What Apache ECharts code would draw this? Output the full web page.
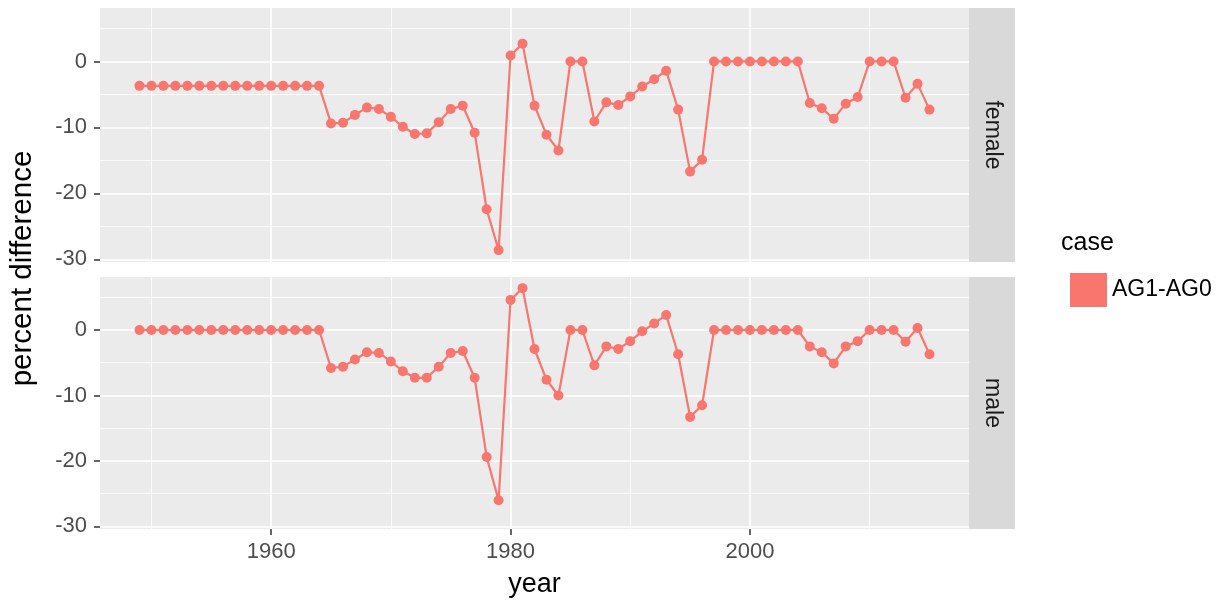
<!DOCTYPE html>
<html>
<head>
<meta charset="utf-8">
<script src="https://cdn.jsdelivr.net/npm/echarts@6/dist/echarts.min.js"></script>
<style>
html,body{margin:0;padding:0;background:#fff;}
#c{width:1223px;height:607px;}
</style>
</head>
<body>
<div id="c"></div>
<script>
const years = [1949,1950,1951,1952,1953,1954,1955,1956,1957,1958,1959,1960,1961,1962,1963,1964,
  1965,1966,1967,1968,1969,1970,1971,1972,1973,1974,1975,1976,1977,1978,1979,1980,
  1981,1982,1983,1984,1985,1986,1987,1988,1989,1990,1991,1992,1993,1994,1995,1996,
  1997,1998,1999,2000,2001,2002,2003,2004,2005,2006,2007,2008,2009,2010,2011,2012,
  2013,2014,2015];

const female = [-3.7,-3.7,-3.7,-3.7,-3.7,-3.7,-3.7,-3.7,-3.7,-3.7,-3.7,-3.7,-3.7,-3.7,-3.7,-3.7,
  -9.4,-9.3,-8.1,-7.0,-7.2,-8.4,-9.9,-11.0,-10.9,-9.2,-7.2,-6.7,-10.8,-22.4,-28.6,0.9,
  2.7,-6.7,-11.1,-13.5,0,0,-9.1,-6.2,-6.6,-5.3,-3.8,-2.7,-1.4,-7.3,-16.7,-14.9,
  0,0,0,0,0,0,0,0,-6.3,-7.1,-8.7,-6.4,-5.4,0,0,0,
  -5.5,-3.4,-7.3];

const male = [0,0,0,0,0,0,0,0,0,0,0,0,0,0,0,0,
  -5.8,-5.6,-4.5,-3.4,-3.5,-4.8,-6.3,-7.3,-7.3,-5.6,-3.5,-3.2,-7.3,-19.4,-26.0,4.6,
  6.4,-2.9,-7.6,-10.0,0,0,-5.4,-2.5,-2.9,-1.7,-0.2,1.0,2.3,-3.7,-13.3,-11.5,
  0,0,0,0,0,0,0,0,-2.5,-3.4,-5.1,-2.5,-1.7,0,0,0,
  -1.8,0.3,-3.7];

const panels = ['female', 'male'];
const caseName = 'AG1-AG0';
const xMajorTicks = [1960, 1980, 2000];
const xMinorTicks = [1950, 1970, 1990, 2010];
const yMajorTicks = [-30, -20, -10, 0];
const yMinorTicks = [-25, -15, -5, 5];
const xRange = [1945.7, 2018.3];
const yRange = [-30.4, 8.1];

const COL = '#F8766D';
const FONT = '"Liberation Sans", Arial, Helvetica, sans-serif';
const panelBoxes = [{top: 8, height: 254}, {top: 277, height: 252}];
const PLEFT = 100, PWIDTH = 869;

const grids = panelBoxes.map(b => ({
  left: PLEFT, top: b.top, width: PWIDTH, height: b.height,
  show: true, backgroundColor: '#EBEBEB', borderWidth: 0, containLabel: false
}));

const plain = v => String(v);
const xAxes = [], yAxes = [], series = [];
panels.forEach((p, i) => {
  const bottom = i === panels.length - 1;
  xAxes.push({
    type: 'value', gridIndex: i, min: xRange[0], max: xRange[1], position: 'bottom',
    axisLine: {show: false, onZero: false},
    axisTick: {show: bottom, customValues: xMajorTicks, length: 6, lineStyle: {color: '#333333', width: 1.5}},
    axisLabel: {show: bottom, customValues: xMajorTicks, formatter: plain, margin: 12, color: '#4D4D4D', fontSize: 22, fontFamily: FONT},
    splitLine: {show: true, lineStyle: {color: '#FFFFFF', width: 1.6}},
    name: bottom ? 'year' : '', nameLocation: 'middle', nameGap: 42,
    nameTextStyle: {color: '#000', fontSize: 27, fontFamily: FONT}
  });
  xAxes.push({
    type: 'value', gridIndex: i, min: xRange[0], max: xRange[1], position: 'bottom',
    axisLine: {show: false, onZero: false},
    axisTick: {show: false, customValues: xMinorTicks},
    axisLabel: {show: false, customValues: xMinorTicks},
    splitLine: {show: true, lineStyle: {color: '#FFFFFF', width: 0.8}}
  });
  yAxes.push({
    type: 'value', gridIndex: i, min: yRange[0], max: yRange[1], position: 'left',
    axisLine: {show: false, onZero: false},
    axisTick: {show: true, customValues: yMajorTicks, length: 6, lineStyle: {color: '#333333', width: 1.5}},
    axisLabel: {show: true, customValues: yMajorTicks, formatter: plain, margin: 13, color: '#4D4D4D', fontSize: 22, fontFamily: FONT},
    splitLine: {show: true, lineStyle: {color: '#FFFFFF', width: 1.6}}
  });
  yAxes.push({
    type: 'value', gridIndex: i, min: yRange[0], max: yRange[1], position: 'left',
    axisLine: {show: false, onZero: false},
    axisTick: {show: false, customValues: yMinorTicks},
    axisLabel: {show: false, customValues: yMinorTicks},
    splitLine: {show: true, lineStyle: {color: '#FFFFFF', width: 0.8}}
  });
  const vals = p === 'female' ? female : male;
  series.push({
    type: 'line', name: caseName,
    xAxisIndex: i * 2, yAxisIndex: i * 2,
    data: years.map((y, k) => [y, vals[k]]),
    symbol: 'circle', symbolSize: 10, showSymbol: true,
    lineStyle: {color: COL, width: 2.2},
    itemStyle: {color: COL},
    emphasis: {disabled: true},
    animation: false, z: 5
  });
});

const graphics = [];
panelBoxes.forEach((b, i) => {
  graphics.push({
    type: 'rect', left: PLEFT + PWIDTH, top: b.top,
    shape: {width: 46, height: b.height},
    style: {fill: '#D9D9D9'}, silent: true
  });
  graphics.push({
    type: 'text', x: PLEFT + PWIDTH + 23, y: b.top + b.height / 2,
    rotation: -Math.PI / 2,
    style: {text: panels[i], fill: '#1A1A1A', font: '23px ' + FONT, align: 'center', verticalAlign: 'middle'},
    silent: true
  });
});
graphics.push({
  type: 'text', x: 23, y: (panelBoxes[0].top + panelBoxes[1].top + panelBoxes[1].height) / 2,
  rotation: Math.PI / 2,
  style: {text: 'percent difference', fill: '#000', font: '29.5px ' + FONT, align: 'center', verticalAlign: 'middle'},
  silent: true
});
graphics.push({
  type: 'text', x: 1061, y: 243,
  style: {text: 'case', fill: '#000', font: '25px ' + FONT, align: 'left', verticalAlign: 'middle'},
  silent: true
});

const chart = echarts.init(document.getElementById('c'), null, {renderer: 'canvas'});
chart.setOption({
  animation: false,
  backgroundColor: '#FFFFFF',
  grid: grids,
  xAxis: xAxes,
  yAxis: yAxes,
  legend: {
    data: [{name: caseName, icon: 'rect'}],
    left: 1065, top: 268, orient: 'vertical',
    itemWidth: 37, itemHeight: 34,
    textStyle: {color: '#000', fontSize: 23, fontFamily: FONT},
    selectedMode: false
  },
  series: series,
  graphic: graphics
});
</script>
</body>
</html>
